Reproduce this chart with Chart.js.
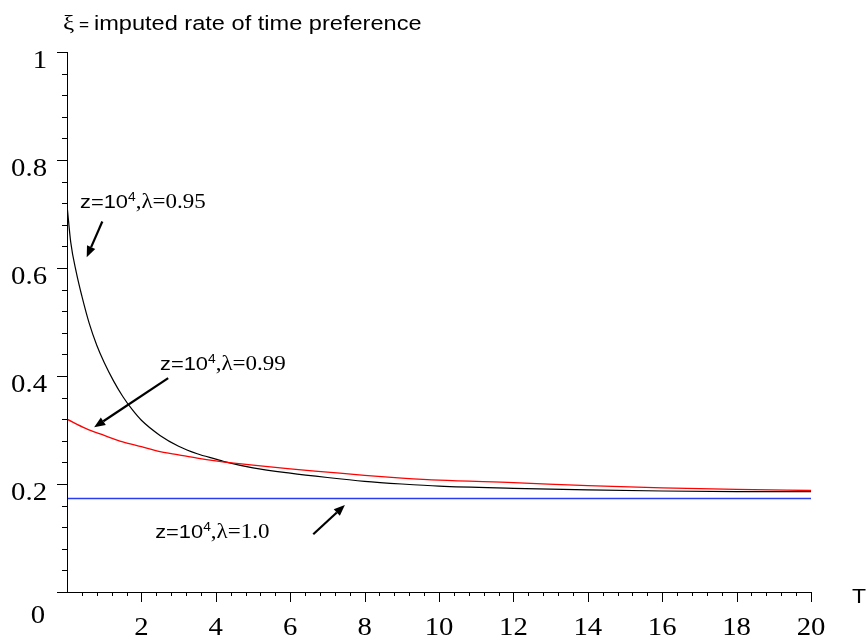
<!DOCTYPE html>
<html>
<head>
<meta charset="utf-8">
<script src="https://cdn.jsdelivr.net/npm/chart.js@4.4.1/dist/chart.umd.min.js"></script>
<style>
  html, body { margin: 0; padding: 0; background: #fff; }
  canvas { display: block; }
</style>
</head>
<body>
<canvas id="xiChart" width="867" height="642"></canvas>
<script>
// horizon T and imputed rate xi
const tBlack = [0, 0.1, 0.25, 0.4, 0.6, 0.8, 1.0, 1.25, 1.5, 1.75, 2.0, 2.5, 3.0, 3.5, 4.0, 4.2, 5, 6, 7, 8, 9, 10, 12, 14, 16, 18, 20];
const xiBlack = [0.717, 0.648, 0.592, 0.548, 0.497, 0.457, 0.425, 0.391, 0.362, 0.338, 0.318, 0.29, 0.27, 0.256, 0.246, 0.242, 0.23, 0.22, 0.212, 0.205, 0.2, 0.196, 0.192, 0.189, 0.187, 0.186, 0.186];

const tRed = [0, 0.5, 1, 1.5, 2, 2.5, 3, 3.5, 4, 5, 6, 7, 8, 9, 10, 12, 14, 16, 18, 20];
const xiRed = [0.32, 0.303, 0.29, 0.278, 0.269, 0.26, 0.254, 0.248, 0.243, 0.235, 0.228, 0.222, 0.216, 0.211, 0.207, 0.2025, 0.197, 0.193, 0.19, 0.188];

const tBlue = [0, 20];
const xiBlue = [0.173, 0.173];

// axis ticks
const xTickValues = [2, 4, 6, 8, 10, 12, 14, 16, 18, 20];
const xTickLabels = ["2", "4", "6", "8", "10", "12", "14", "16", "18", "20"];
const yTickValues = [0.2, 0.4, 0.6, 0.8, 1];
const yTickLabels = ["0.2", "0.4", "0.6", "0.8", "1"];

// curve labels and arrows (data coordinates)
const curveLabels = ["0.95", "0.99", "1.0"];
const labelT = [0.35, 2.5, 2.37];
const labelXi = [0.711, 0.411, 0.100];
const arrowFromT = [0.95, 2.72, 6.62];
const arrowFromXi = [0.686, 0.396, 0.107];
const arrowToT = [0.53, 0.73, 7.47];
const arrowToXi = [0.620, 0.305, 0.161];

const SERIF = '"Liberation Serif", "Times New Roman", serif';
const SANS = '"Liberation Sans", Arial, sans-serif';
const SX = 1.15; // glyphs in the figure are slightly wide

function pairs(xs, ys) {
  return xs.map((x, i) => ({ x: x, y: ys[i] }));
}

// draw a run of text pieces, each with its own font and rise
function drawRun(ctx, pieces, x, y, align) {
  let total = 0;
  pieces.forEach(p => {
    ctx.font = p.font;
    total += ctx.measureText(p.text).width;
  });
  let start = x;
  if (align === "right") start = x - total * SX;
  if (align === "center") start = x - total * SX / 2;
  ctx.save();
  ctx.translate(start, y);
  ctx.scale(SX, 1);
  let cx = 0;
  pieces.forEach(p => {
    ctx.font = p.font;
    ctx.fillText(p.text, cx, -(p.rise || 0));
    cx += ctx.measureText(p.text).width;
  });
  ctx.restore();
}

function drawArrow(ctx, x1, y1, x2, y2) {
  const ang = Math.atan2(y2 - y1, x2 - x1);
  const len = 11, half = 4.5;
  const bx = x2 - len * Math.cos(ang), by = y2 - len * Math.sin(ang);
  ctx.beginPath();
  ctx.moveTo(x1, y1);
  ctx.lineTo(bx, by);
  ctx.lineWidth = 2.2;
  ctx.strokeStyle = "#000";
  ctx.stroke();
  ctx.beginPath();
  ctx.moveTo(x2, y2);
  ctx.lineTo(bx + half * Math.sin(ang), by - half * Math.cos(ang));
  ctx.lineTo(bx - half * Math.sin(ang), by + half * Math.cos(ang));
  ctx.closePath();
  ctx.fillStyle = "#000";
  ctx.fill();
}

const axesPlugin = {
  id: "mapleAxes",
  afterDraw(chart) {
    const ctx = chart.ctx;
    const xs = chart.scales.x, ys = chart.scales.y;
    const x0 = xs.getPixelForValue(0), x20 = xs.getPixelForValue(20);
    const y0 = ys.getPixelForValue(0), y1 = ys.getPixelForValue(1);

    ctx.save();
    ctx.strokeStyle = "#000";
    ctx.lineWidth = 1;
    ctx.beginPath();
    ctx.moveTo(x0 + 0.5, y1);
    ctx.lineTo(x0 + 0.5, y0);
    ctx.moveTo(x0 - 10, y0 + 0.5);
    ctx.lineTo(x20, y0 + 0.5);
    // y ticks every 0.04, long at 0.2 steps
    for (let k = 1; k <= 25; k++) {
      const py = Math.round(ys.getPixelForValue(k * 0.04)) + 0.5;
      const l = k % 5 === 0 ? 10 : 5;
      ctx.moveTo(x0 - l, py);
      ctx.lineTo(x0, py);
    }
    // x ticks every 0.4, long at 2 steps
    for (let k = 1; k <= 50; k++) {
      const px = Math.round(xs.getPixelForValue(k * 0.4)) + 0.5;
      const l = k % 5 === 0 ? 10 : 4;
      ctx.moveTo(px, y0);
      ctx.lineTo(px, y0 + l);
    }
    ctx.stroke();

    ctx.fillStyle = "#000";
    ctx.textBaseline = "alphabetic";
    const tickFont = "25px " + SERIF;
    yTickValues.forEach((v, i) => {
      drawRun(ctx, [{ text: yTickLabels[i], font: tickFont }], x0 - 20, ys.getPixelForValue(v) + 16, "right");
    });
    xTickValues.forEach((v, i) => {
      drawRun(ctx, [{ text: xTickLabels[i], font: tickFont }], xs.getPixelForValue(v), y0 + 43, "center");
    });
    drawRun(ctx, [{ text: "0", font: tickFont }], x0 - 22, y0 + 31, "right");
    drawRun(ctx, [{ text: "T", font: "20px " + SANS }], 852, y0 + 11, "left");

    // axis title
    drawRun(ctx, [
      { text: "\u03be", font: "22px " + SERIF },
      { text: " = ", font: "15px " + SANS },
      { text: "imputed rate of time preference", font: "20.5px " + SANS }
    ], 63, 30, "left");

    // curve labels and arrows
    curveLabels.forEach((lam, i) => {
      const lx = xs.getPixelForValue(labelT[i]);
      const ly = ys.getPixelForValue(labelXi[i]);
      drawRun(ctx, [
        { text: "z=10", font: "19px " + SANS },
        { text: "4", font: "12px " + SANS, rise: 7 },
        { text: ",\u03bb=" + lam, font: "20px " + SERIF }
      ], lx, ly, "left");
      drawArrow(ctx,
        xs.getPixelForValue(arrowFromT[i]), ys.getPixelForValue(arrowFromXi[i]),
        xs.getPixelForValue(arrowToT[i]), ys.getPixelForValue(arrowToXi[i]));
    });
    ctx.restore();
  }
};

new Chart(document.getElementById("xiChart").getContext("2d"), {
  type: "line",
  data: {
    datasets: [
      {
        label: "z=10^4, lambda=1.0",
        data: pairs(tBlue, xiBlue),
        borderColor: "#2a3cf0",
        borderWidth: 1.5,
        tension: 0
      },
      {
        label: "z=10^4, lambda=0.99",
        data: pairs(tRed, xiRed),
        borderColor: "#ff0000",
        borderWidth: 1.3,
        cubicInterpolationMode: "monotone"
      },
      {
        label: "z=10^4, lambda=0.95",
        data: pairs(tBlack, xiBlack),
        borderColor: "#000000",
        borderWidth: 1.2,
        cubicInterpolationMode: "monotone"
      }
    ]
  },
  options: {
    responsive: false,
    animation: false,
    layout: { padding: { left: 67, top: 52, right: 56, bottom: 50 } },
    elements: { point: { radius: 0 } },
    scales: {
      x: { type: "linear", min: 0, max: 20, display: false },
      y: { type: "linear", min: 0, max: 1, display: false }
    },
    plugins: {
      legend: { display: false },
      tooltip: { enabled: false }
    }
  },
  plugins: [axesPlugin]
});
</script>
</body>
</html>
